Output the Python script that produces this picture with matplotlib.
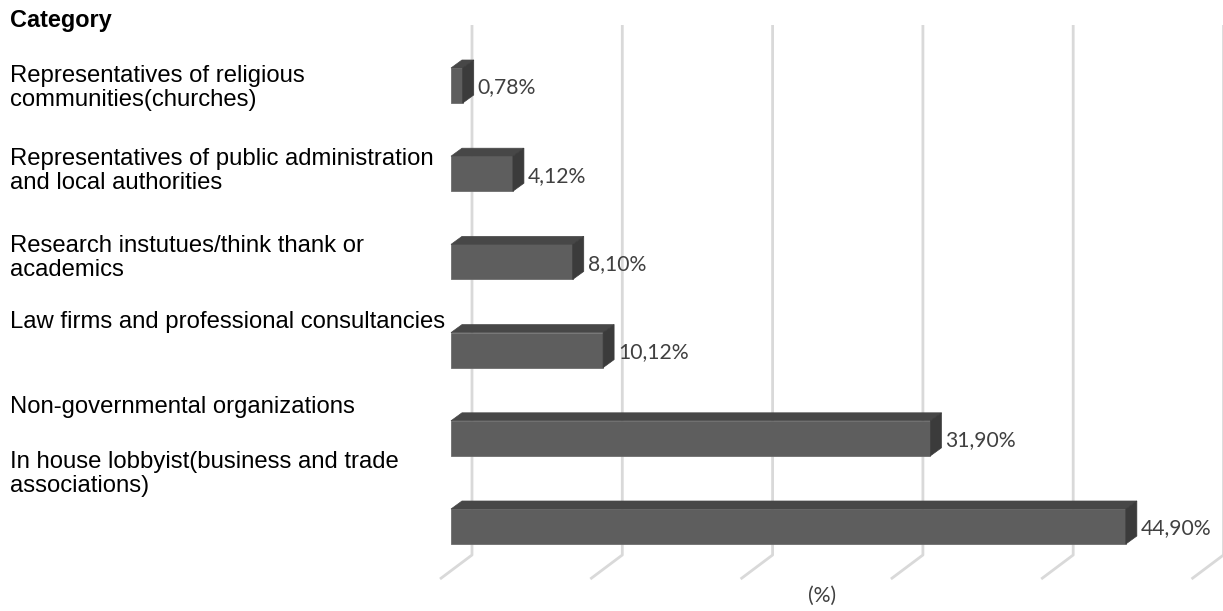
import matplotlib.pyplot as plt
from matplotlib.patches import Polygon

categories = [
    "Representatives of religious\ncommunities(churches)",
    "Representatives of public administration\nand local authorities",
    "Research instutues/think thank or\nacademics",
    "Law firms and professional consultancies",
    "Non-governmental organizations",
    "In house lobbyist(business and trade\nassociations)",
]
values = [0.78, 4.12, 8.10, 10.12, 31.90, 44.90]
value_labels = ["0,78%", "4,12%", "8,10%", "10,12%", "31,90%", "44,90%"]
grid_ticks = [0, 10, 20, 30, 40, 50]

# pixel geometry of the reference
W, H = 1223, 611
X0 = 451.0        # pixel of value 0 on bar front face
PX = 15.03        # pixels per percent
Y0 = 85.5         # pixel center of first bar
PY = 88.2         # pixels per category step

def xpx(p):
    return (p - X0) / PX

def ypx(p):
    return (p - Y0) / PY

fig = plt.figure(figsize=(W / 100, H / 100), dpi=100)
ax = fig.add_axes([0, 0, 1, 1])
ax.set_xlim(xpx(0), xpx(W))
ax.set_ylim(ypx(H), ypx(0))
ax.axis("off")

# 3d gridlines: vertical on back wall, diagonal across the floor
grid_c = "#d9d9d9"
gdx = 21 / PX
fdx, fdy = -32 / PX, 24 / PY
for t in grid_ticks:
    xb = t + gdx
    ax.plot([xb, xb, xb + fdx], [ypx(25), ypx(555), ypx(555) + fdy],
            color=grid_c, lw=2.0, solid_capstyle="butt", zorder=1)

bar_h = 35 / PY
ddx, ddy = 11 / PX, -8 / PY
front_c, top_c, side_c = "#5e5e5e", "#474747", "#3b3b3b"

for i, v in enumerate(values):
    yt = i - bar_h / 2
    yb = i + bar_h / 2
    ax.barh(i, v, height=bar_h, left=0, color=front_c, edgecolor="#6e6e6e",
            lw=0.6, zorder=3)
    ax.add_patch(Polygon([(0, yt), (v, yt), (v + ddx, yt + ddy), (ddx, yt + ddy)],
                         closed=True, fc=top_c, ec=top_c, lw=0.5, zorder=3))
    ax.add_patch(Polygon([(v, yt), (v + ddx, yt + ddy), (v + ddx, yb + ddy), (v, yb)],
                         closed=True, fc=side_c, ec=side_c, lw=0.5, zorder=3))
    ax.text(v + ddx + 4 / PX, i + 2 / PY, value_labels[i], fontsize=15.2,
            family="Lato", color="#404040", va="center", ha="left", zorder=4)

# category labels (left column)
label_y = [88, 171, 258, 322, 407, 474]
for lab, yy in zip(categories, label_y):
    ax.text(xpx(10), ypx(yy), lab, fontsize=17.2, family="Liberation Sans",
            color="black", va="center", ha="left", linespacing=1.07)

ax.text(xpx(10), ypx(21), "Category", fontsize=16.9, family="Liberation Sans",
        weight="bold", color="black", va="center", ha="left")
ax.text(xpx(822), ypx(596), "(%)", fontsize=15.2, family="Lato",
        color="#404040", va="center", ha="center")

fig.savefig("out.png", dpi=100)
